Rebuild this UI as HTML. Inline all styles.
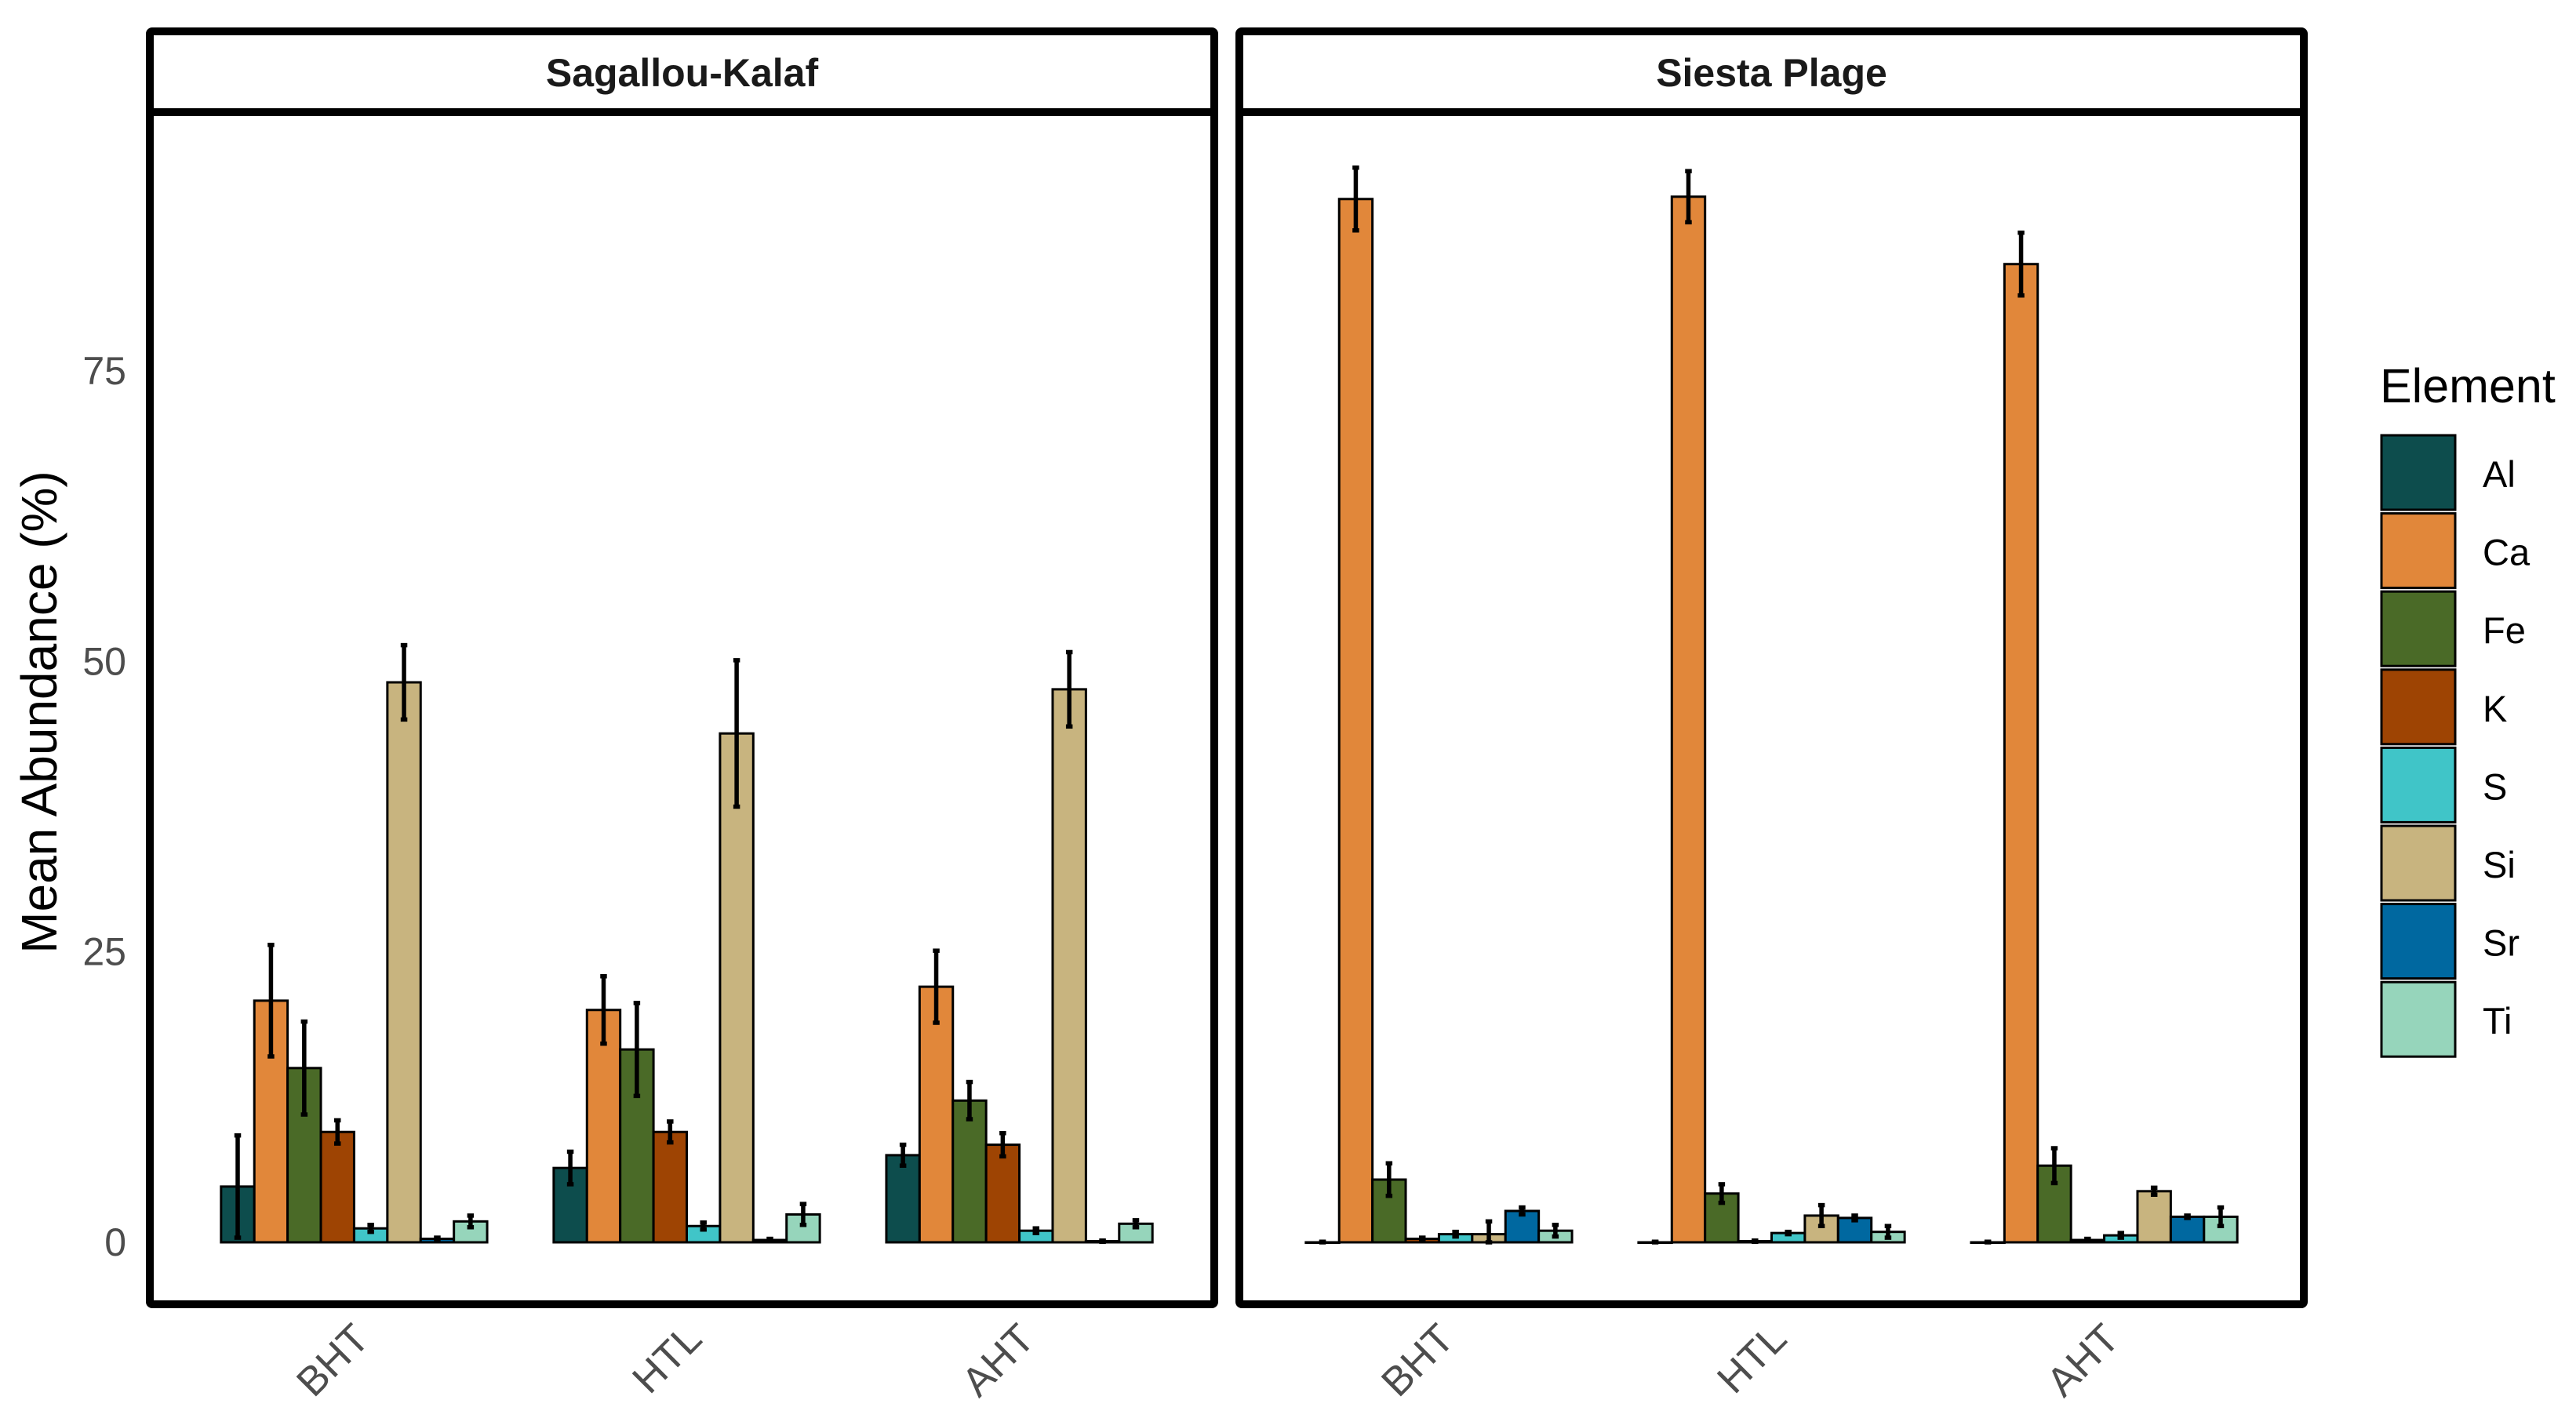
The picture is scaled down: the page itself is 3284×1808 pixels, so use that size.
<!DOCTYPE html>
<html><head><meta charset="utf-8">
<style>html,body{margin:0;padding:0;background:#fff}svg{display:block}</style>
</head><body>
<svg id="chart" width="3284" height="1808" viewBox="0 0 3284 1808" xmlns="http://www.w3.org/2000/svg" font-family="Liberation Sans, Arial, sans-serif"></svg>
<script>
const elements = ["Al","Ca","Fe","K","S","Si","Sr","Ti"];
const colors = ["#0d4d4d","#e1873a","#4a6a27","#9e4403","#40c5c8","#c8b47f","#0068a0","#96d5bb"];
const periods = ["BHT","HTL","AHT"];
const sites = ["Sagallou-Kalaf","Siesta Plage"];
const yTicks = [0,25,50,75];
const sagMeans = [[4.8,20.8,15.0,9.5,1.2,48.2,0.3,1.8],[6.4,20.0,16.6,9.5,1.4,43.8,0.2,2.4],[7.5,22.0,12.2,8.4,1.0,47.6,0.1,1.6]];
const sagErr = [[4.4,4.8,4.0,1.0,0.3,3.2,0.1,0.5],[1.4,2.9,4.0,0.9,0.3,6.3,0.1,0.9],[0.9,3.1,1.6,1.0,0.2,3.2,0.05,0.3]];
const sieMeans = [[0.0,89.8,5.4,0.3,0.7,0.7,2.7,1.0],[0.0,90.0,4.2,0.1,0.8,2.3,2.1,0.9],[0.0,84.2,6.6,0.2,0.6,4.4,2.2,2.2]];
const sieErr = [[0.05,2.7,1.4,0.1,0.2,1.1,0.3,0.5],[0.05,2.2,0.8,0.05,0.1,0.9,0.2,0.5],[0.05,2.7,1.5,0.1,0.2,0.3,0.1,0.8]];

const NS="http://www.w3.org/2000/svg";
const svgEl=document.getElementById('chart');
function mk(tag,attrs,parent){const e=document.createElementNS(NS,tag);for(const k in attrs)e.setAttribute(k,attrs[k]);(parent||svgEl).appendChild(e);return e;}
const y0=1584, yPer=(1584-473)/75;
function yScale(v){return y0-v*yPer;}
const panels=[{left:191,right:1548,shift:6},{left:1580,right:2937,shift:0}];
const panelTop=40, stripB=143, panelBottom=1663;
const allMeans=[sagMeans,sieMeans], allErr=[sagErr,sieErr];

yTicks.forEach(t=>{
  const tx=mk('text',{x:161,y:yScale(t)+17,'text-anchor':'end','font-size':50,fill:'#4d4d4d'});
  tx.textContent=t;
  
  
});
const yt=mk('text',{x:0,y:0,transform:'translate(72,908) rotate(-90)','text-anchor':'middle','font-size':64,fill:'#000'});
yt.textContent='Mean Abundance (%)';



panels.forEach((p,si)=>{
  const g=mk('g',{});
  
  
  const w=p.right-p.left, unit=w/3.2, bw=unit*0.8/8;
  function xScale(i){return p.left+p.shift+unit*(0.6+i);}
  periods.forEach((per,pi)=>{
    elements.forEach((el,ei)=>{
      const v=allMeans[si][pi][ei];
      const x=xScale(pi)-unit*0.4+ei*bw;
      const r=mk('rect',{x:x,y:yScale(v),width:bw,height:Math.max(yScale(0)-yScale(v),0.5),fill:colors[ei],stroke:'#000','stroke-width':3},g);
      
      
    });
    elements.forEach((el,ei)=>{
      const v=allMeans[si][pi][ei], e=allErr[si][pi][ei];
      const cx=xScale(pi)-unit*0.4+(ei+0.5)*bw;
      const lo=Math.max(v-e,0), hi=v+e, cw=bw*0.1;
      const eg=mk('g',{stroke:'#000','stroke-width':5.5,fill:'none'},g);
      
      
      mk('line',{x1:cx,x2:cx,y1:yScale(lo),y2:yScale(hi)},eg);
      mk('line',{x1:cx-cw,x2:cx+cw,y1:yScale(lo),y2:yScale(lo)},eg);
      mk('line',{x1:cx-cw,x2:cx+cw,y1:yScale(hi),y2:yScale(hi)},eg);
    });
    const lx=xScale(pi)+22, ly=1710;
    const lt=mk('text',{x:0,y:0,transform:`translate(${lx},${ly}) rotate(-45)`,'text-anchor':'end','font-size':52,fill:'#4d4d4d'});
    lt.textContent=per;
    
    
  });
  const fr=mk('rect',{x:p.left,y:panelTop,width:w,height:panelBottom-panelTop,fill:'none',stroke:'#000','stroke-width':10,rx:3},g);
  
  
  const sl=mk('line',{x1:p.left,x2:p.right,y1:stripB,y2:stripB,stroke:'#000','stroke-width':10},g);
  
  
  const st=mk('text',{x:(p.left+p.right)/2,y:110,'text-anchor':'middle','font-size':50,'font-weight':'bold',fill:'#1a1a1a'},g);
  st.textContent=sites[si];
  
  
});

const lg=mk('g',{});


const ltitle=mk('text',{x:3034,y:513,'font-size':61,fill:'#000'},lg);
ltitle.textContent='Element';


elements.forEach((el,i)=>{
  const ky=555+i*99.6;
  const e=mk('g',{},lg);
  
  
  mk('rect',{x:3036,y:ky,width:94,height:95,fill:colors[i],stroke:'#000','stroke-width':3},e);
  const t=mk('text',{x:3165,y:ky+66,'font-size':47,fill:'#000'},e);
  t.textContent=el;
});
</script>
</body></html>
